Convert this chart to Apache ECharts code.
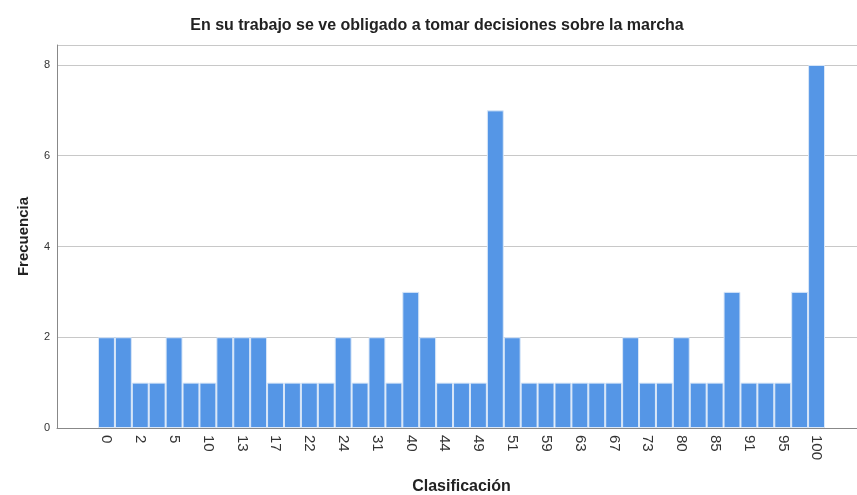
<!DOCTYPE html>
<html>
<head>
<meta charset="utf-8">
<script src="https://cdn.jsdelivr.net/npm/echarts@6/dist/echarts.min.js"></script>
<style>
  html, body { margin: 0; padding: 0; background: #fff; }
  #chart { width: 857px; height: 495px; }
</style>
</head>
<body>
<div id="chart"></div>
<script>
// categorias (solo se ven una de cada dos)
var categorias = ['0','1','2','3','5','7','10','12','13','15','17','20','22','23','24','30','31','35','40','42','44','45','49','50','51','55','59','60','63','65','67','70','73','75','80','83','85','90','91','93','95','97','100'];
var frecuencias = [2,2,1,1,2,1,1,2,2,2,1,1,1,1,2,1,2,1,3,2,1,1,1,7,2,1,1,1,1,1,1,2,1,1,2,1,1,3,1,1,1,3,8];
var yTicks = [0, 2, 4, 6, 8];

var myChart = echarts.init(document.getElementById('chart'));
var fuente = 'Liberation Sans';
var option = {
    animation: false,
    title: {
        text: 'En su trabajo se ve obligado a tomar decisiones sobre la marcha',
        left: 432,
        top: 13,
        textAlign: 'center',
        textStyle: {fontFamily: fuente, fontSize: 16, fontWeight: 'bold', color: '#222'}
    },
    grid: [
        {left: 57, right: 0, top: 45, bottom: 67, outerBoundsMode: 'none'},  // ejes y lineas de fondo
        {left: 98, right: 32, top: 45, bottom: 67, outerBoundsMode: 'none'}  // barras
    ],
    xAxis: [
        {
            type: 'value', gridIndex: 0, min: 0, max: 1,
            axisLine: {show: true, onZero: false, lineStyle: {color: '#888'}},
            axisTick: {show: false},
            axisLabel: {show: false},
            splitLine: {show: false}
        },
        {
            type: 'category', gridIndex: 1, data: categorias,
            axisLine: {show: false},
            axisTick: {show: false},
            axisLabel: {rotate: -90, interval: 1, margin: 7, fontFamily: fuente, fontSize: 15, color: '#333'},
            name: 'Clasificación',
            nameLocation: 'middle',
            nameGap: 51,
            nameTextStyle: {fontFamily: fuente, fontSize: 16, fontWeight: 'bold', color: '#222'}
        }
    ],
    yAxis: [
        {
            type: 'value', gridIndex: 0, min: yTicks[0], max: 8.44, interval: 2,
            axisLine: {show: true, lineStyle: {color: '#888'}},
            axisTick: {show: false},
            axisLabel: {
                fontFamily: fuente, fontSize: 11, color: '#333', margin: 7,
                formatter: function (v) { return yTicks.indexOf(v) >= 0 ? String(v) : ''; }
            },
            splitLine: {show: true, lineStyle: {color: '#c8c8c8'}},
            name: 'Frecuencia',
            nameLocation: 'middle',
            nameGap: 26,
            nameTextStyle: {fontFamily: fuente, fontSize: 15, fontWeight: 'bold', color: '#222'}
        },
        {
            type: 'value', gridIndex: 1, min: 0, max: 8.44,
            show: false
        }
    ],
    series: [{
        type: 'bar',
        xAxisIndex: 1,
        yAxisIndex: 1,
        data: frecuencias,
        barWidth: '100%',
        itemStyle: {color: '#5596e6', borderColor: '#d9e7f8', borderWidth: 1}
    }]
};
myChart.setOption(option);
</script>
</body>
</html>
